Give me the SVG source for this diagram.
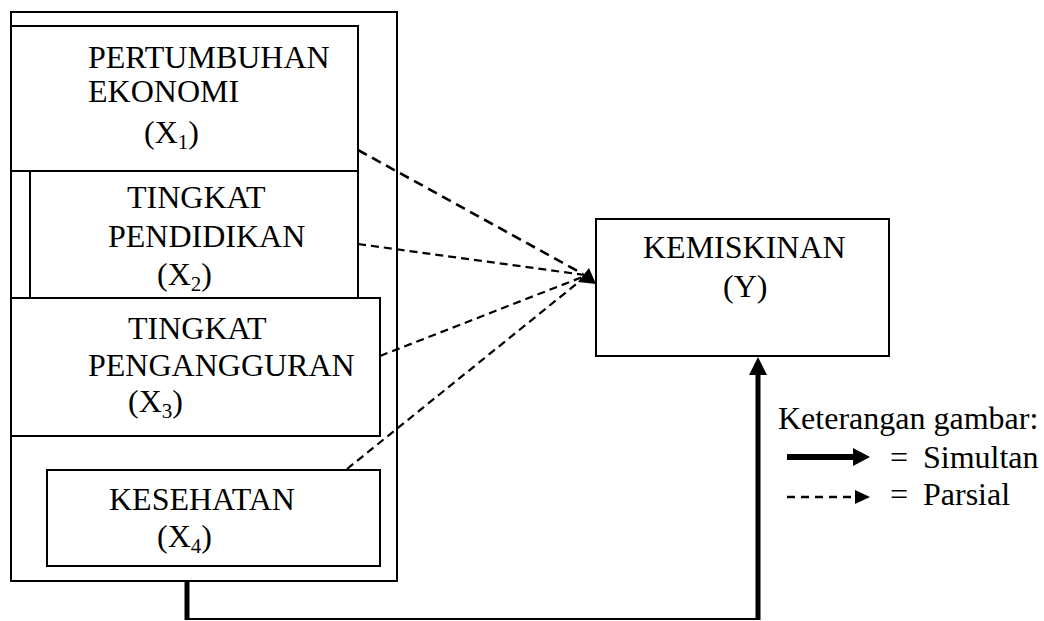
<svg xmlns="http://www.w3.org/2000/svg" width="1044" height="621" viewBox="0 0 1044 621">
<style>
.box{fill:#fff;stroke:#000;stroke-width:2}
.t{font-family:"Liberation Serif","Times New Roman",serif;font-size:32px;fill:#000}
.sub{font-size:21px}
.dash{fill:none;stroke:#000;stroke-width:2.2;stroke-dasharray:8 5}
.thick{fill:none;stroke:#000;stroke-width:5}
</style>
<rect width="1044" height="621" fill="#fff"/>
<g id="outer"><rect class="box" x="11" y="12" width="386" height="569"/></g>
<g id="x1">
<rect class="box" x="11" y="26" width="347" height="145"/>
<text class="t" x="88" y="68">PERTUMBUHAN</text>
<text class="t" x="88" y="102">EKONOMI</text>
<text class="t" x="144" y="143">(X<tspan class="sub" dy="6">1</tspan><tspan dy="-6">)</tspan></text>
</g>
<g id="x2">
<rect class="box" x="30" y="171" width="328" height="127"/>
<text class="t" x="127" y="208">TINGKAT</text>
<text class="t" x="108" y="247">PENDIDIKAN</text>
<text class="t" x="157" y="285">(X<tspan class="sub" dy="6">2</tspan><tspan dy="-6">)</tspan></text>
</g>
<g id="x3">
<rect class="box" x="11" y="298" width="369" height="138"/>
<text class="t" x="128" y="339">TINGKAT</text>
<text class="t" x="88" y="376">PENGANGGURAN</text>
<text class="t" x="128" y="412">(X<tspan class="sub" dy="6">3</tspan><tspan dy="-6">)</tspan></text>
</g>
<g id="x4">
<rect class="box" x="47" y="470" width="333" height="96"/>
<text class="t" x="109" y="510">KESEHATAN</text>
<text class="t" x="157" y="547">(X<tspan class="sub" dy="6">4</tspan><tspan dy="-6">)</tspan></text>
</g>
<g id="y">
<rect class="box" x="596" y="219" width="293" height="137"/>
<text class="t" x="643" y="258">KEMISKINAN</text>
<text class="t" x="723" y="297">(Y)</text>
</g>
<g id="connectors">
<path d="M358 150 L583 274" fill="none" stroke="#000" stroke-width="2.6" stroke-dasharray="10 6"/>
<path class="dash" d="M358 244 L585 275"/>
<path class="dash" d="M380 356 L585 276"/>
<path class="dash" d="M347 469 L585 277"/>
<polygon points="578,282 589,268 596,284" fill="#000"/>
<line x1="187" y1="581" x2="187" y2="620" class="thick"/>
<line x1="187" y1="619" x2="758" y2="619" stroke="#000" stroke-width="2"/>
<line x1="758" y1="620" x2="758" y2="372" class="thick"/>
<polygon points="758,357 749,375 767,375" fill="#000"/>
</g>
<g id="legend">
<text class="t" x="778" y="429">Keterangan gambar:</text>
<line x1="787" y1="457" x2="856" y2="457" stroke="#000" stroke-width="6"/>
<polygon points="853,448 870,457 853,466" fill="#000"/>
<text class="t" x="890" y="468">=</text>
<text class="t" x="923" y="468">Simultan</text>
<line x1="787" y1="497" x2="856" y2="497" stroke="#000" stroke-width="2.5" stroke-dasharray="8 6"/>
<polygon points="855,490 870,497 855,504" fill="#000"/>
<text class="t" x="890" y="505">=</text>
<text class="t" x="923" y="505">Parsial</text>
</g>
</svg>
